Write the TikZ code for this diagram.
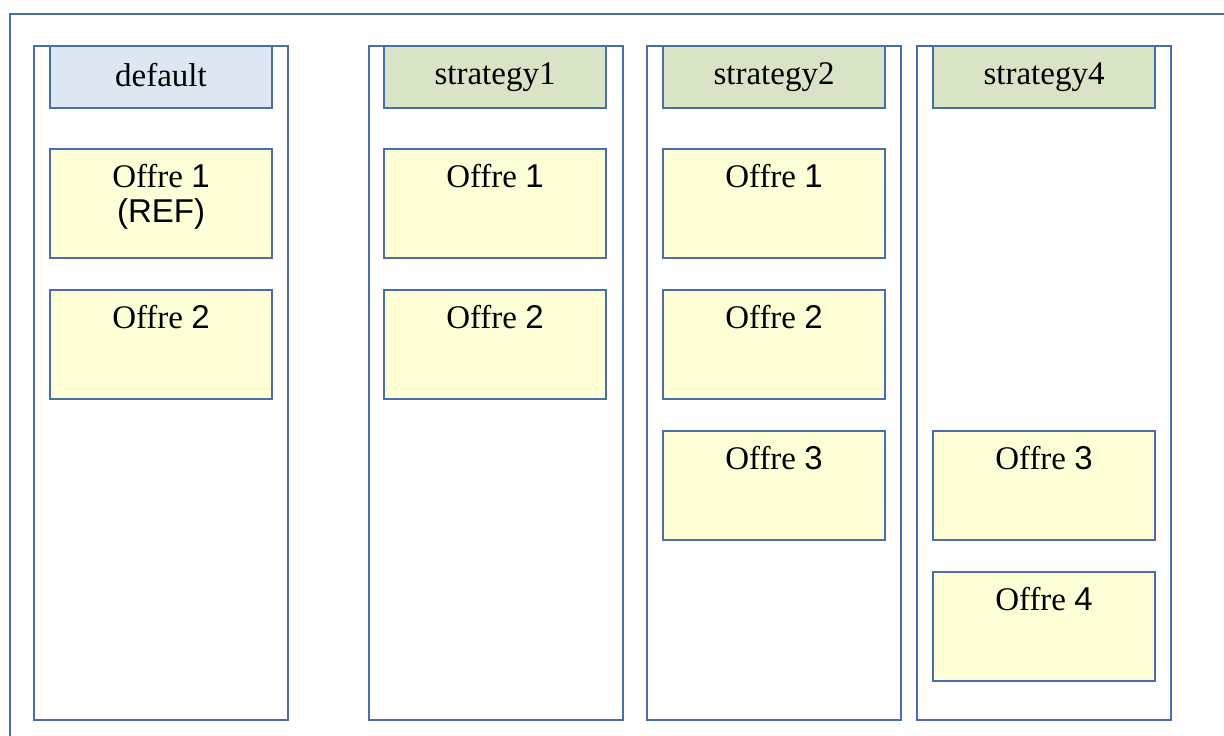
\documentclass[tikz,border=0pt]{standalone}
\usepackage{fontspec}
\setmainfont{Liberation Serif}
\newfontfamily\sansf{Liberation Sans}
\definecolor{lineblue}{RGB}{74,110,170}
\definecolor{hdrblue}{RGB}{221,231,242}
\definecolor{hdrgreen}{RGB}{216,228,197}
\definecolor{offyellow}{RGB}{255,255,215}
\begin{document}
\begin{tikzpicture}[x=1pt,y=-1pt,
  frame/.style={draw=lineblue,line width=2pt},
  column/.style={draw=lineblue,line width=2pt,fill=white,anchor=north west,minimum width=254pt,minimum height=674pt,inner sep=0pt},
  header/.style={draw=lineblue,line width=2pt,anchor=north west,minimum width=222pt,minimum height=62pt,inner sep=0pt},
  hdrdef/.style={header,fill=hdrblue},
  hdrstr/.style={header,fill=hdrgreen},
  offre/.style={draw=lineblue,line width=2pt,fill=offyellow,anchor=north west,minimum width=222pt,minimum height=109pt,inner sep=0pt},
  txt/.style={anchor=base,inner sep=0pt,font=\fontsize{33}{38}\selectfont},
  noffre/.style={txt,yshift=-39pt}
]
\useasboundingbox (0,0) rectangle (1224,736);
\fill[white] (0,0) rectangle (1224,736);
% outer frame
\coordinate (fbl) at (10,740);
\coordinate (ftl) at (10,14);
\coordinate (ftr) at (1230,14);
\draw[frame] (fbl) -- (ftl) -- (ftr);
% columns
\node[column] (cdef) at (33,45) {};
\node[column,minimum width=254pt] (cs1) at (368,45) {};
\node[column,minimum width=254pt] (cs2) at (646,45) {};
\node[column] (cs4) at (916,45) {};
% headers
\node[hdrdef] (hdef) at (49,45) {};
\node[hdrstr] (hs1) at (383,45) {};
\node[hdrstr] (hs2) at (662,45) {};
\node[hdrstr] (hs4) at (932,45) {};
\node[txt] (thdef) at ([yshift=-41pt]hdef.north) {default};
\node[txt] (ths1) at ([yshift=-39pt]hs1.north) {strategy1};
\node[txt] (ths2) at ([yshift=-39pt]hs2.north) {strategy2};
\node[txt] (ths4) at ([yshift=-39pt]hs4.north) {strategy4};
% offers
\node[offre] (d1) at (49,148) {};
\node[offre] (d2) at (49,289) {};
\node[offre] (a1) at (383,148) {};
\node[offre] (a2) at (383,289) {};
\node[offre] (b1) at (662,148) {};
\node[offre] (b2) at (662,289) {};
\node[offre] (b3) at (662,430) {};
\node[offre] (c3) at (932,430) {};
\node[offre] (c4) at (932,571) {};
\node[noffre] (td1) at (d1.north) {Offre {\sansf 1}};
\node[txt,yshift=-74pt] (tref) at (d1.north) {\sansf (REF)};
\node[noffre] (td2) at (d2.north) {Offre {\sansf 2}};
\node[noffre] (ta1) at (a1.north) {Offre {\sansf 1}};
\node[noffre] (ta2) at (a2.north) {Offre {\sansf 2}};
\node[noffre] (tb1) at (b1.north) {Offre {\sansf 1}};
\node[noffre] (tb2) at (b2.north) {Offre {\sansf 2}};
\node[noffre] (tb3) at (b3.north) {Offre {\sansf 3}};
\node[noffre] (tc3) at (c3.north) {Offre {\sansf 3}};
\node[noffre] (tc4) at (c4.north) {Offre {\sansf 4}};
\end{tikzpicture}
\end{document}
